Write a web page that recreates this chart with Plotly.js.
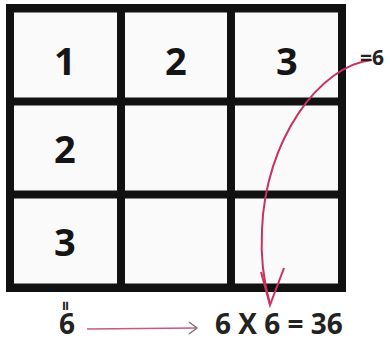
<!DOCTYPE html>
<html><head><meta charset="utf-8">
<script src="https://cdn.plot.ly/plotly-3.0.1.min.js"></script>
<style>html,body{margin:0;padding:0;background:#fff}#chart{width:390px;height:342px}</style>
</head><body><div id="chart"></div>
<script>
// ---- data ----
const topRow = [1, 2, 3];          // numbers along the top row
const leftCol = [1, 2, 3];         // numbers down the left column (first shared with top row)
const gridSize = 3;
const rowSum = topRow.reduce((a, b) => a + b, 0);
const colSum = leftCol.reduce((a, b) => a + b, 0);
const rowSumLabel = '=' + rowSum;
const equation = colSum + ' X ' + rowSum + ' = ' + (colSum * rowSum);

// ---- geometry (layout only) ----
const W = 390, H = 342;
const GX = 10, GY = 8.5, CW = (342 - 10) / 3, CH = (287.5 - 8.5) / 3;
const px2x = p => (p - GX) / CW;
const px2y = p => (p - GY) / CH;
const pt = (x, y) => px2x(x) + ',' + px2y(y);

const z = [], cx = [], cy = [];
for (let i = 0; i < gridSize; i++) { cx.push(i + 0.5); cy.push(i + 0.5); z.push(new Array(gridSize).fill(1)); }

const numFont = {family: 'Open Sans', size: 38, color: '#151515', weight: 700};
const annotations = [];
topRow.forEach((v, i) => annotations.push({x: i + 0.5, y: 0.5, yshift: -5, text: String(v), showarrow: false, font: numFont}));
leftCol.slice(1).forEach((v, i) => annotations.push({x: 0.5, y: i + 1.5, text: String(v), showarrow: false, font: numFont}));
annotations.push({x: px2x(372), y: px2y(57), text: rowSumLabel, showarrow: false,
  font: {family: 'Open Sans', size: 21, color: '#222', weight: 700}});
annotations.push({x: px2x(66), y: px2y(306), text: '=', textangle: 90, showarrow: false, borderpad: 0,
  font: {family: 'Open Sans', size: 17, color: '#222', weight: 700}});
annotations.push({x: px2x(67), y: px2y(323), text: String(colSum), showarrow: false, borderpad: 0,
  font: {family: 'Open Sans', size: 28, color: '#222', weight: 700}});
annotations.push({x: px2x(279), y: px2y(323), text: equation, showarrow: false, borderpad: 0,
  font: {family: 'Open Sans', size: 28, color: '#222', weight: 700}});

const red = '#c8325f';
const shapes = [
  {type: 'rect', xref: 'x', yref: 'y', x0: px2x(6), x1: px2x(346), y0: px2y(4), y1: px2y(292),
   fillcolor: '#111', line: {width: 0}, layer: 'below'},
  {type: 'path', xref: 'x', yref: 'y', layer: 'above',
   path: 'M' + pt(372, 60) + ' C' + pt(320, 65) + ' ' + pt(265, 140) + ' ' + pt(262, 230) +
         ' C' + pt(260, 265) + ' ' + pt(266, 290) + ' ' + pt(270, 304),
   line: {color: red, width: 2}},
  {type: 'path', xref: 'x', yref: 'y', layer: 'above',
   path: 'M' + pt(261, 272) + ' L' + pt(270, 305) + ' L' + pt(284, 268),
   line: {color: red, width: 2}},
  {type: 'path', xref: 'x', yref: 'y', layer: 'above',
   path: 'M' + pt(87, 329) + ' L' + pt(196, 328),
   line: {color: '#c85a78', width: 1.5}},
  {type: 'path', xref: 'x', yref: 'y', layer: 'above',
   path: 'M' + pt(189, 322) + ' L' + pt(197, 328) + ' L' + pt(189, 334),
   line: {color: '#777', width: 1.5}}
];

const trace = {type: 'heatmap', x: cx, y: cy, z: z, xgap: 8, ygap: 8,
  colorscale: [[0, '#fafafa'], [1, '#fafafa']], showscale: false, hoverinfo: 'skip'};

const layout = {
  width: W, height: H, margin: {l: 0, r: 0, t: 0, b: 0},
  paper_bgcolor: '#fff', plot_bgcolor: '#fff', showlegend: false,
  xaxis: {range: [px2x(0), px2x(W)], visible: false, fixedrange: true},
  yaxis: {range: [px2y(H), px2y(0)], visible: false, fixedrange: true},
  annotations: annotations, shapes: shapes
};
Plotly.newPlot('chart', [trace], layout, {displayModeBar: false, staticPlot: true});
</script>
</body></html>
